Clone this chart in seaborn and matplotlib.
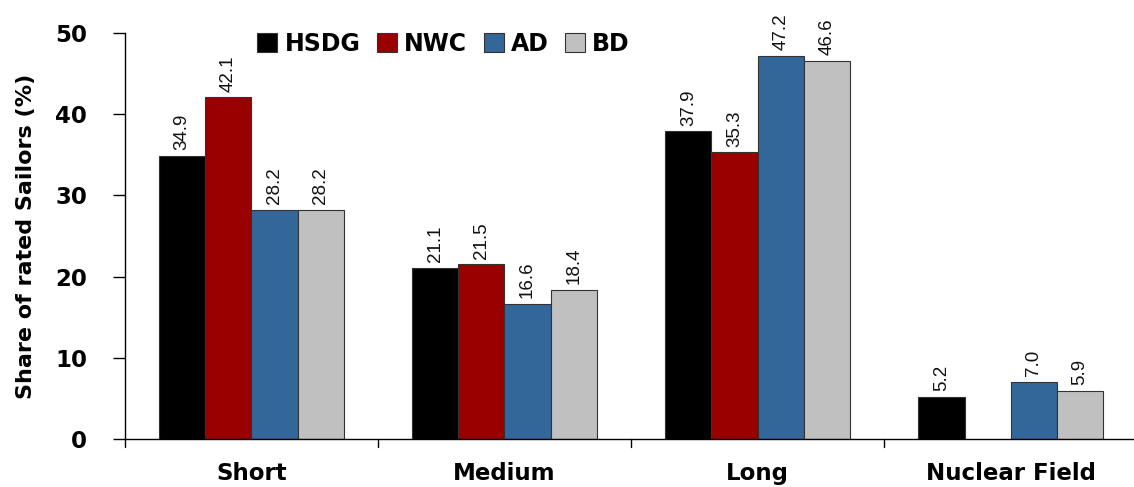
import numpy as np
import pandas as pd
import matplotlib
matplotlib.use("Agg")
import matplotlib.pyplot as plt
import seaborn as sns

categories = ["Short", "Medium", "Long", "Nuclear Field"]
series = ["HSDG", "NWC", "AD", "BD"]
hsdg = [34.9, 21.1, 37.9, 5.2]
nwc = [42.1, 21.5, 35.3, np.nan]
ad = [28.2, 16.6, 47.2, 7.0]
bd = [28.2, 18.4, 46.6, 5.9]
colors = ["#000000", "#990000", "#336699", "#C0C0C0"]
y_ticks = [0, 10, 20, 30, 40, 50]

rows = []
for name, vals in zip(series, [hsdg, nwc, ad, bd]):
    for cat, v in zip(categories, vals):
        rows.append({"category": cat, "group": name, "value": v})
df = pd.DataFrame(rows)

sns.set_theme(style="white")
plt.rcParams["font.family"] = ["Liberation Sans", "DejaVu Sans"]
plt.rcParams["text.color"] = "black"
plt.rcParams["xtick.color"] = "black"
plt.rcParams["ytick.color"] = "black"
plt.rcParams["axes.labelcolor"] = "black"

fig = plt.figure(figsize=(11.34, 4.87), dpi=100)
ax = fig.add_axes([0.110, 0.099, 0.893, 0.833])

sns.barplot(data=df, x="category", y="value", hue="group", order=categories,
            hue_order=series, palette=colors, saturation=1, width=0.73, gap=0,
            edgecolor="#333333", linewidth=0.8, ax=ax, legend=True)

for cont in ax.containers:
    for patch in cont.patches:
        h = patch.get_height()
        if np.isnan(h):
            continue
        ax.text(patch.get_x() + patch.get_width() / 2, h + 0.7, f"{h:.1f}",
                rotation=90, ha="center", va="bottom", fontsize=13.5,
                color="#111111")

ax.set_xlim(-0.5, 3.5)
ax.set_ylim(0, 50)
ax.set_yticks(y_ticks)
ax.set_yticklabels([str(t) for t in y_ticks], fontsize=16.5, fontweight="bold",
                   family=["DejaVu Sans"])
ax.set_xticks([0, 1, 2, 3])
ax.set_xticklabels(categories, fontsize=16.5, fontweight="bold",
                   family=["DejaVu Sans"])
ax.tick_params(axis="x", length=0, pad=17)
ax.tick_params(axis="y", left=True, length=9, width=1, color="black", pad=18)
for b in [-0.5, 0.5, 1.5, 2.5]:
    ax.plot([b, b], [0, -1.0], color="black", lw=1, clip_on=False)

ax.set_xlabel("")
ax.set_ylabel("Share of rated Sailors (%)", fontsize=16, fontweight="bold",
              labelpad=14, family=["DejaVu Sans"])

for s in ["top", "right"]:
    ax.spines[s].set_visible(False)
for s in ["left", "bottom"]:
    ax.spines[s].set_color("black")
    ax.spines[s].set_linewidth(1)

handles, labels = ax.get_legend_handles_labels()
ax.legend(handles, labels, loc="upper left", bbox_to_anchor=(0.11, 1.055),
          ncol=4, frameon=False, handlelength=0.85, handleheight=0.85,
          handletextpad=0.3, columnspacing=0.7,
          prop={"family": ["DejaVu Sans"], "weight": "bold", "size": 17})

fig.savefig("out.png", dpi=100)
